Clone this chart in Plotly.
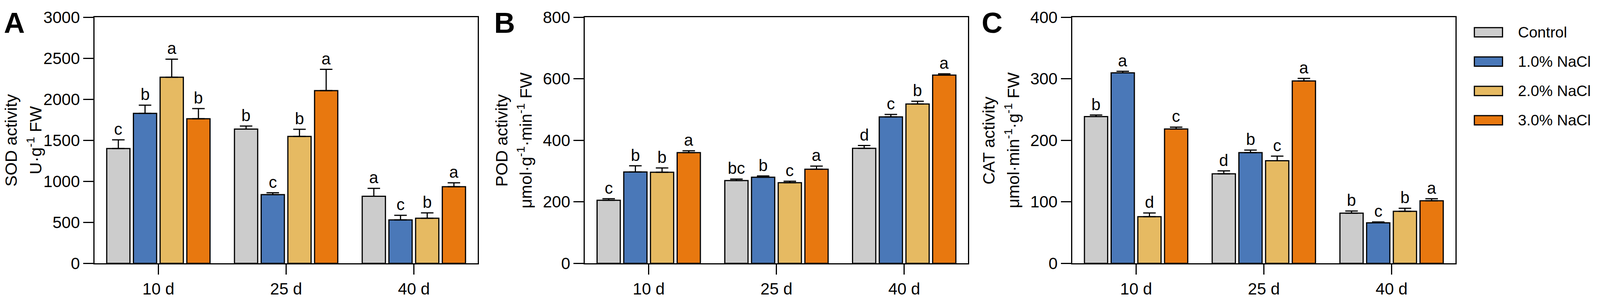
import plotly.graph_objects as go
from plotly.subplots import make_subplots


# data
days = ['10 d', '25 d', '40 d']
treatments = ['Control', '1.0% NaCl', '2.0% NaCl', '3.0% NaCl']
colors = ['#CCCCCC', '#4A78B8', '#E6BA62', '#E8780F']

# rows = treatments, columns = days
sod_mean = [[1400, 1636, 818], [1828, 838, 530], [2269, 1547, 550], [1763, 2105, 934]]
sod_err = [[105, 37, 96], [100, 22, 55], [220, 87, 65], [124, 260, 48]]
sod_sig = [['c', 'b', 'a'], ['b', 'c', 'c'], ['a', 'b', 'b'], ['b', 'a', 'a']]

pod_mean = [[205, 269, 374], [297, 280, 476], [296, 262, 518], [360, 306, 612]]
pod_err = [[5, 5, 9], [20, 4, 8], [14, 5, 9], [6, 10, 4]]
pod_sig = [['c', 'bc', 'd'], ['b', 'b', 'c'], ['b', 'c', 'b'], ['a', 'a', 'a']]

cat_mean = [[238.5, 145.5, 81.6], [309.6, 180, 65.9], [75.8, 166.8, 84.5], [218.4, 296.5, 101.7]]
cat_err = [[2.5, 4.7, 3.5], [2.5, 4, 1.4], [6, 7.5, 5], [3, 4, 3.3]]
cat_sig = [['b', 'd', 'b'], ['a', 'b', 'c'], ['d', 'c', 'b'], ['c', 'a', 'a']]

y_max = [3000, 800, 400]
y_step = [500, 200, 100]
titles = [('SOD activity', 'U·g<sup>-1</sup> FW'),
          ('POD activity', 'μmol·g<sup>-1</sup>·min<sup>-1</sup> FW'),
          ('CAT activity', 'μmol·min<sup>-1</sup>·g<sup>-1</sup> FW')]
panel_tags = ['A', 'B', 'C']


# the page only shows ~4096px across and is then stretched to 4317,
# and the plot div sits ~27px down the page, so positions measured on the
# reference picture are squeezed into what is actually visible
REF_W = 4317
VIEW_W, EDGE = 4096, 8
SX = VIEW_W / REF_W
W, H = VIEW_W - 2 * EDGE, 770
FONT = 'Liberation Sans, Arial, sans-serif'
BARGAP = 0.164
GROUPGAP = 0.13

# pixel layout of the three panels (reference pixels)
x_left = [255, 1578, 2893]
x_right = [1289, 2612, 3927]
y_top, y_bot = 20.5, 708.5
# where the plot top / zero line land inside the div
FIG_TOP, FIG_ZERO = 14, 685
SY = (FIG_ZERO - FIG_TOP) / (y_bot - y_top)


def px(x):
	return (x * SX - EDGE) / W


def py(y):
	return (H - (FIG_TOP + (y - y_top) * SY)) / H


fig = make_subplots(rows=1, cols=3)

panels = [(sod_mean, sod_err, sod_sig), (pod_mean, pod_err, pod_sig), (cat_mean, cat_err, cat_sig)]
slot = (1 - BARGAP) / len(treatments)
annotations = []

for p, (means, errs, sigs) in enumerate(panels):
	for t, name in enumerate(treatments):
		fig.add_trace(go.Bar(
					x		= list(range(len(days))),
					y		= means[t],
					name	= name,
					showlegend = False,
					marker	= dict(color=colors[t], line=dict(color='black', width=3)),
					error_y	= dict(type='data', array=errs[t], arrayminus=[0] * len(days),
									symmetric=False, color='black', thickness=3, width=16),
					),
				row=1,
				col=p + 1,
				)
		# significance letters above the error bars
		off = -(1 - BARGAP) / 2 + (t + 0.5) * slot
		for d in range(len(days)):
			annotations.append(dict(
				x=d + off, y=means[t][d] + errs[t][d],
				xref='x%s' % ('' if p == 0 else p + 1),
				yref='y%s' % ('' if p == 0 else p + 1),
				text=sigs[t][d], showarrow=False,
				xanchor='center', yanchor='bottom', yshift=2,
				font=dict(family=FONT, size=42, color='black'),
			))

	xa = 'xaxis' if p == 0 else 'xaxis%d' % (p + 1)
	ya = 'yaxis' if p == 0 else 'yaxis%d' % (p + 1)
	fig.update_layout({
		xa: dict(domain=[px(x_left[p]), px(x_right[p])], range=[-0.5, len(days) - 0.5],
				tickvals=list(range(len(days))), ticktext=days,
				showline=True, linecolor='black', linewidth=3, mirror=True,
				ticks='outside', ticklen=26, tickwidth=3, tickcolor='black',
				showgrid=False, zeroline=False, ticklabeloverflow='allow',
				tickfont=dict(family=FONT, size=42, color='black')),
		ya: dict(domain=[py(y_bot), py(y_top)], range=[0, y_max[p]], dtick=y_step[p],
				showline=True, linecolor='black', linewidth=3, mirror=True,
				ticks='outside', ticklen=26, tickwidth=3, tickcolor='black',
				showgrid=False, zeroline=False, ticklabeloverflow='allow',
				tickfont=dict(family=FONT, size=42, color='black')),
	})

	# two line y titles
	for k, off_px in enumerate([225, 162]):
		annotations.append(dict(
			x=px(x_left[p] - off_px), y=py((y_top + y_bot) / 2), xref='paper', yref='paper',
			text=titles[p][k], showarrow=False, textangle=-90,
			xanchor='center', yanchor='middle',
			font=dict(family=FONT, size=43, color='black'),
		))

	# panel tag
	annotations.append(dict(
		x=px(x_left[p] - 247), y=py(36), xref='paper', yref='paper',
		text='<b>%s</b>' % panel_tags[p], showarrow=False,
		xanchor='left', yanchor='middle',
		font=dict(family=FONT, size=74, color='black'),
	))

# legend drawn by hand so the swatches can be as large as in the original
shapes = []
for t, name in enumerate(treatments):
	yc = 62.5 + t * 82
	shapes.append(dict(type='rect', xref='paper', yref='paper',
						x0=px(3978), x1=px(4054), y0=py(yc + 13), y1=py(yc - 13),
						fillcolor=colors[t], line=dict(color='black', width=3)))
	annotations.append(dict(
		x=px(4094), y=py(yc), xref='paper', yref='paper',
		text=name, showarrow=False, xanchor='left', yanchor='middle',
		font=dict(family=FONT, size=39, color='black'),
	))

fig.update_layout(
	width=W,
	height=H,
	margin=dict(l=0, r=0, t=0, b=0),
	barmode='group',
	bargap=BARGAP,
	bargroupgap=GROUPGAP,
	plot_bgcolor='white',
	paper_bgcolor='white',
	showlegend=False,
	annotations=annotations,
	shapes=shapes,
)

fig.write_html("out.html")
